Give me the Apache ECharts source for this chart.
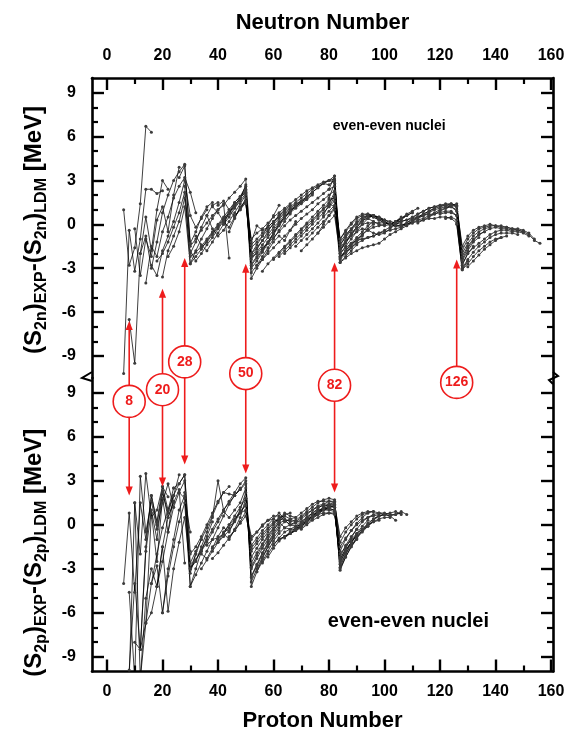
<!DOCTYPE html>
<html>
<head>
<meta charset="utf-8">
<script src="https://cdn.jsdelivr.net/npm/echarts@6/dist/echarts.min.js"></script>
<style>
  html, body { margin: 0; padding: 0; background: #fff; }
  #chart { width: 568px; height: 736px; }
</style>
</head>
<body>
<div id="chart"></div>
<script>
// Shell-gap residuals of two-nucleon separation energies, even-even nuclei.
// Each chain: [first nucleon number, values at steps of 2].

// (S2n)EXP - (S2n)LDM against neutron number (isotopic chains)
const s2nLight = [
  [6,  [1.0, -2.8, -1.6, 1.4, 6.7, 6.3]],
  [6,  [-10.2, -0.4, -3.2, -1.0, 2.4, 2.4, 2.1, 2.3]],
  [8,  [-6.5, -9.5, -2.0, 0.5, -1.8, 1.0, 3.0, 2.4]],
  [10, [-0.3, -3.5, -1.0, -2.2, 0.3, 1.2, -0.5, 2.0, 3.9]],
  [12, [-2.0, -0.8, -3.0, -1.2, 0.8, 2.0, 3.0, 3.6, 4.1, -1.3]],
  [14, [-4.0, -1.5, -2.2, -0.5, 0.5, 1.8, 2.6, 3.2, 2.2, 0.8]],
  [16, [-2.8, -3.5, -1.8, -0.8, 0.2, 1.5, 3.0, 0.6, -0.2, 0.4, 1.0]],
  [18, [-2.5, -2.0, -1.2, -0.2, 0.8, 2.2, -1.3, -0.5, 0.5, 1.2, 1.5]],
  [20, [-3.6, -1.8, -0.8, 0.2, 1.8, -2.0, -1.2, -0.2, 0.6, 1.3, 1.5]],
  [22, [-2.2, -1.5, -0.5, 1.2, -2.7, -1.8, -1.0, -0.3, 0.4, 1.0, 1.4, -2.3]]
];
const s2nMid = [
  [26, [3.2, 4.0, -1.5, -1.0, -0.4, 0.1, 0.6, 1.0, 1.3, 1.8, 2.2, 2.6, 3.1, -2.0, -1.4, -0.8, -0.1, 0.6, 1.3]],
  [28, [2.6, -2.7, -2.2, -1.7, -1.1, -0.6, -0.1, 0.4, 0.8, 1.3, 1.8, 2.3, -3.7, -3.0, -2.4, -1.8, -1.2, -0.8, -1.1, -0.4, 0.2]],
  [30, [-1.8, -2.5, -2.0, -1.4, -0.9, -0.3, 0.2, 0.7, 1.2, 1.7, 2.7, -3.3, -2.8, -2.2, -1.6, -1.0, -0.4, 0.2, 0.7]],
  [30, [-2.2, -1.9, -1.5, -1.0, -0.5, 0.0, 0.5, 1.0, 1.5, 1.9, 2.4, -2.8, -2.3, -1.8, -1.2, -0.6, 0.0, 0.5]],
  [32, [-0.8, -1.4, -1.8, -1.2, -0.6, 0.0, 0.5, 1.1, 1.6, 2.1, -3.0, -2.5, -1.9, -1.3, -0.7, -0.1, 0.4, 0.9, 1.3, 1.6]],
  [34, [-1.6, -1.2, -0.7, -0.2, 0.3, 0.8, 1.3, 1.8, 2.2, -2.2, -1.7, -1.1, -0.5, 0.1, 0.6, 1.0, 1.3]],
  [36, [0.6, -0.3, -0.8, -0.4, 0.2, 0.8, 1.4, 2.0, -2.7, -2.2, -1.7, -1.2, -0.6, 0.0, 0.5, 0.9, 1.2, 1.5, 1.8]],
  [38, [1.2, 0.8, 0.2, -0.2, 0.5, 1.1, 1.6, -2.4, -1.9, -1.4, -0.9, -0.4, 0.1, 0.5, 0.8, 1.1, 1.4, 1.7, 2.0]],
  [40, [1.3, 1.6, 1.0, 0.5, 1.0, 1.5, -2.0, -1.6, -1.1, -0.7, -0.2, 0.2, 0.6, 0.9, 1.2, 1.5, 1.8, 2.1]],
  [42, [0.0, 0.8, 1.5, 1.9, 2.6, -1.6, -1.2, -0.8, -0.4, 0.0, 0.4, 0.7, 1.0, 1.3, 1.6, 1.9, 2.2, 2.5, 2.8, 3.0, 3.3, -2.6, -2.2, -1.8, -1.4]],
  [44, [-0.5, 0.4, 1.2, 1.6, -1.0, -0.6, -0.3, 0.1, 0.5, 0.8, 1.1, 1.4, 1.7, 2.0, 2.3, 2.5, 2.7, 2.9, 3.0, 3.1, -2.4, -2.0, -1.6, -1.2, -0.8]],
  [46, [0.6, 1.0, 1.8, -1.4, -1.0, -0.6, -0.2, 0.2, 0.6, 0.9, 1.2, 1.5, 1.8, 2.1, 2.4, 2.6, 2.8, 2.7, 3.0, -2.3, -1.9, -1.5, -1.1, -0.7, -0.3, 0.0]]
];
const s2nHeavy = [
  [50, [1.4, -1.2, -0.1, -0.4, -0.2, 0.2, 0.5, 0.8, 1.1, 1.4, 1.6, 1.9, 2.2, 2.5, 2.8, 3.0, 2.9, -2.2, -1.8, -1.3, -0.9, -0.5, -0.1, 0.2]],
  [52, [-2.2, -2.0, -1.6, -1.3, -0.9, -0.5, -0.1, 0.3, 0.6, 0.9, 1.2, 1.5, 1.8, 2.1, 2.4, 2.6, -2.0, -1.5, -1.0, -0.5, 0.0, 0.4, 0.6, 0.5, 0.3]],
  [54, [-2.8, -2.4, -2.0, -1.6, -1.2, -0.8, -0.4, 0.0, 0.4, 0.7, 1.0, 1.4, 1.7, 2.0, 2.3, -1.8, -1.3, -0.7, -0.2, 0.3, 0.6, 0.5, 0.3, 0.1, 0.0, 0.2, 0.5]],
  [56, [-3.2, -2.7, -2.3, -1.9, -1.5, -1.1, -0.7, -0.3, 0.1, 0.5, 0.9, 1.3, 1.7, 1.8, -2.3, -1.8, -1.4, -1.0, -0.7, -0.4, -0.2, -0.1, 0.0]],
  [60, [-2.4, -2.0, -1.6, -1.2, -0.8, -0.4, 0.0, 0.3, 0.7, 1.1, 1.5, 1.9, -1.4, -0.9, -0.4, 0.0, 0.3, 0.4, 0.2, 0.0, -0.1, 0.0, 0.2, 0.4, 0.6]],
  [62, [-2.2, -1.8, -1.4, -1.0, -0.6, -0.2, 0.2, 0.6, 1.0, 1.4, 1.2, -1.7, -1.2, -0.8, -0.5, -0.3, -0.4, -0.6, -0.7, -0.6, -0.3, 0.0, 0.3, 0.6, 0.8]],
  [64, [-2.0, -1.6, -1.2, -0.8, -0.4, 0.0, 0.4, 0.8, 1.2, 1.6, -1.2, -0.7, -0.3, 0.1, 0.4, 0.6, 0.5, 0.3, 0.1, 0.0, 0.2, 0.4, 0.6, 0.8]],
  [68, [-1.5, -1.1, -0.7, -0.3, 0.1, 0.5, 0.9, 1.3, -1.0, -0.5, 0.0, 0.4, 0.6, 0.7, 0.6, 0.4, 0.2, 0.0, 0.1, 0.4, 0.7, 0.9, 1.1]],
  [70, [-1.8, -1.4, -1.0, -0.6, -0.2, 0.2, 0.6, -2.0, -1.6, -1.3, -1.1, -1.0, -0.9, -0.8, -0.6, -0.4, -0.2, 0.0, 0.2, 0.3, 0.4, 0.5, 0.6, 0.7]],
  [72, [-1.0, -0.6, -0.2, 0.2, 0.6, 1.0, -1.6, -1.1, -0.6, -0.2, 0.2, 0.5, 0.6, 0.5, 0.3, 0.1, -0.1, -0.1, 0.1, 0.3, 0.5, 0.7, 0.9, 1.1]],
  [76, [-0.6, 0.0, 0.6, 1.2, -2.6, -2.3, -2.0, -1.8, -1.6, -1.5, -1.4, -1.3, -1.0, -0.7, -0.5, -0.3, -0.1, 0.1, 0.2, 0.3, 0.4, 0.4, 0.5, 0.5, 0.4, 0.1, -3.1, -2.5]],
  [78, [0.6, 1.4, 2.2, -2.2, -1.9, -1.6, -1.3, -1.1, -0.9, -0.8, -0.6, -0.5, -0.4, -0.3, -0.2, 0.0, 0.1, 0.3, 0.4, 0.6, 0.7, 0.8, 0.9, 0.9, 0.6, -2.8, -2.0, -1.5]],
  [80, [2.4, 3.3, -1.8, -1.2, -0.7, -0.3, 0.0, 0.1, 0.1, 0.1, 0.1, 0.0, -0.1, -0.1, 0.0, 0.2, 0.4, 0.6, 0.8, 1.0, 1.1, 1.2, 1.2, 0.9, -2.5, -1.8, -1.2, -0.9]],
  [80, [1.8, 2.8, -1.4, -0.8, -0.3, 0.2, 0.5, 0.6, 0.6, 0.4, 0.3, 0.2, 0.1, 0.0, 0.0, 0.2, 0.5, 0.7, 0.9, 1.1, 1.2, 1.3, 1.4, 1.2, -2.2, -1.5, -1.0, -0.7, -0.5]],
  [80, [1.2, 1.9, -1.0, -0.4, 0.1, 0.5, 0.7, 0.7, 0.6, 0.4, 0.2, 0.0, -0.1, -0.1, 0.1, 0.4, 0.7, 0.9, 1.1, 1.2, 1.3, 1.4, 1.4, 1.3, -2.0, -1.3, -0.8, -0.5, -0.3, -0.2]],
  [104, [0.2, 0.2, 0.3, 0.5, 0.7, 0.9, 1.1, 1.2, 1.3, 1.3, 1.3, 1.2, -1.5, -0.8, -0.4, -0.2, -0.1, 0.0, -0.1, -0.1, -0.2, -0.3, -0.4, -0.5]],
  [112, [0.1, 0.3, 0.5, 0.7, 0.9, 1.1, 1.3, 1.4, -1.8, -1.0, -0.6, -0.3, -0.2, -0.1, -0.1, -0.2, -0.2, -0.3, -0.3, -0.4, -0.6, -1.0]],
  [116, [0.6, 0.8, 1.0, 1.1, 1.2, 1.0, -2.4, -1.6, -1.1, -0.7, -0.5, -0.3, -0.2, -0.3, -0.3, -0.4, -0.4, -0.5, -0.7, -1.1, -1.3]],
  [120, [0.7, 0.8, 0.8, 0.6, -2.7, -2.0, -1.6, -1.3, -1.0, -0.7, -0.5, -0.4, -0.4, -0.5, -0.5, -0.6, -0.8]],
  [122, [0.4, 0.5, 0.3, -3.0, -2.4, -1.9, -1.5, -1.2, -0.9, -0.7, -0.6, -0.6, -0.6, -0.7]],
  [126, [0.0, -3.1, -2.7, -2.2, -1.8, -1.5, -1.2, -1.0, -0.9]],
  [130, [-2.9, -2.5, -2.1, -1.7, -1.4, -1.1, -0.9, -0.8]]
];

// (S2p)EXP - (S2p)LDM against proton number (isotonic chains)
const s2pLight = [
  [6,  [-4.0, 0.8, -4.6, 1.5, -1.0, 2.0, 0.2, 2.6, 1.9]],
  [8,  [-10.5, 1.5, -2.0, 3.5, 0.5, 1.0, 2.6, 1.0, 2.5]],
  [8,  [-4.6, -10.5, 3.3, -0.5, 1.6, -0.3, 1.5, 2.8, 1.2]],
  [8,  [-9.9, -4.0, -8.5, -1.8, 1.0, -1.0, 2.3, 0.5, 1.6]],
  [10, [-8.0, -8.5, -1.5, 2.0, 0.0, 2.2, 0.8, 2.0, 3.4]],
  [10, [1.5, -10.5, -6.7, 0.8, -2.5, 1.8, -0.5, 2.0]],
  [12, [-8.5, -6.7, -4.0, -2.0, -0.2, 1.0, 2.0, 2.8, 3.4, -1.8]],
  [12, [-10.5, -5.0, -3.0, -4.2, -1.5, 0.5, 1.5, 2.4, -2.6]],
  [14, [-6.7, -6.0, -4.2, -2.5, -0.5, 1.2, 2.2, 1.8, -0.5]],
  [16, [-4.0, -2.8, -6.0, -3.0, -1.0, 1.0, 2.0, -3.3, -2.0]],
  [18, [-4.2, -1.5, -5.9, -3.0, -1.2, 0.5, -3.0, -2.0, -1.0]],
  [20, [-6.0, -3.5, -1.5, 0.2, 1.5, -4.2, -3.0, -1.8, -0.8, 0.2]]
];
const s2pMid = [
  [24, [2.5, 2.8, 3.4, -2.6, -1.8, -1.0, -0.2, 0.6, 1.5, 2.2, 2.6]],
  [26, [2.2, 3.0, -4.2, -3.4, -2.6, -1.8, -1.0, -0.2, 0.6, 1.4, 2.0, 2.5]],
  [28, [2.2, -3.0, -2.5, -1.5, -0.5, 0.5, 3.0, 1.0, 1.6, 2.2, 2.8, 3.2, -4.2, -3.2, -2.3, -1.5, -0.8]],
  [30, [-2.0, -1.5, -0.8, 0.0, 0.8, 1.6, 2.2, 2.1, 2.0, 2.4, 3.0, -3.5, -2.7, -1.9, -1.2, -0.6, 0.0]],
  [30, [-3.0, -2.4, -1.7, -1.0, -0.3, 0.4, 1.0, 1.5, 2.0, 2.4, 2.8, -3.9, -3.0, -2.2, -1.5, -0.9, -0.4]],
  [32, [-2.4, -1.8, -1.2, -0.5, 0.2, 0.9, 0.5, 1.0, 1.5, 2.5, -3.0, -2.3, -1.6, -1.0, -0.4, 0.2, 0.6]],
  [34, [-2.0, -2.3, -1.6, -0.8, -0.2, -0.5, 0.3, 1.0, 2.2, -2.6, -1.9, -1.3, -0.7, -0.2, 0.3, 0.7, 0.8]],
  [34, [-3.0, -2.4, -1.8, -1.2, -0.6, 0.0, 0.6, 1.2, 1.8, -2.9, -2.1, -1.4, -0.8, -0.3, 0.1, 0.3, 0.3]],
  [36, [-1.4, -1.0, -0.9, -0.6, -1.0, -0.3, 0.5, 1.8, -2.2, -1.6, -1.0, -0.5, 0.0, 0.4, 0.8, 0.6, 0.5]],
  [38, [-1.5, -1.2, -0.8, -0.4, 0.2, 0.8, 1.4, -1.8, -1.3, -0.8, -0.3, 0.1, 0.5, 0.6, 0.4, 0.5, 0.8, 1.1, 1.4, 1.6, 1.6, 1.6, 1.5, -3.1, -2.2, -1.5, -1.0]],
  [38, [-2.3, -1.9, -1.4, -0.9, -0.4, 0.2, 0.9, -1.6, -1.1, -0.6, -0.2, 0.2, 0.4, 0.3, 0.0, 0.2, 0.5, 0.8, 1.0, 1.2, 1.3, 1.3, 1.2, -2.9, -2.0, -1.2, -0.6, -0.1, 0.3]],
  [40, [-1.0, -0.6, -0.2, 0.3, 0.9, 1.3, -1.4, -0.9, -0.4, 0.0, 0.4, 0.8, 0.4, 0.2, 0.3, 0.6, 0.9, 1.2, 1.5, 1.7, 1.8, 1.7, -2.6, -1.8, -1.2, -0.7]],
  [42, [-0.5, 0.0, 0.4, 0.8, 1.0, -0.8, -0.5, -0.1, 0.3, 0.6, 0.6, 0.3, 0.0, 0.1, 0.4, 0.7, 1.0, 1.3, 1.4, 1.4, 1.3, -2.2, -1.4, -0.8, -0.3]],
  [44, [-0.8, -0.4, 0.1, 0.6, -1.0, -0.5, 0.0, 0.3, 0.4, 0.2, -0.2, -0.3, -0.1, 0.2, 0.5, 0.8, 1.0, 1.1, 1.1, 1.0, -2.4, -1.6, -0.9, -0.3, 0.2, 0.5, 0.7, 0.8, 0.8, 0.7, 0.7, 0.8]]
];
const s2pHeavy = [
  [52, [-3.6, -2.8, -2.0, -1.3, -0.7, -0.2, 0.2, 0.4, 0.2, 0.2, 0.5, 0.8, 1.1, 1.4, 1.6, 1.6, -1.8, -1.0, -0.4, 0.1, 0.5, 0.8]],
  [54, [-3.2, -2.5, -1.8, -1.1, -0.6, -0.2, 0.0, -0.1, 0.0, 0.3, 0.6, 0.9, 1.2, 1.4, 1.5, -1.2, -0.5, 0.0, 0.4, 0.7, 0.8, 0.9]],
  [56, [-2.6, -2.0, -1.4, -0.9, -0.5, -0.3, -0.3, -0.1, 0.2, 0.5, 0.8, 1.1, 1.3, 1.4, -0.8, -0.2, 0.2, 0.6, 0.8, 0.9, 0.9, 0.8, 0.7]],
  [58, [-2.2, -1.6, -1.1, -0.8, -0.6, -0.4, -0.2, 0.1, 0.4, 0.7, 1.0, 1.2, 1.3, -3.0, -2.2, -1.5, -0.9, -0.4, 0.0, 0.4, 0.6, 0.7, 0.6, 0.3]],
  [60, [-1.3, -1.0, -0.8, -0.5, -0.2, 0.1, 0.4, 0.7, 0.9, 1.0, 1.0, 0.9, -2.5, -1.8, -1.2, -0.7, -0.3, 0.1, 0.4, 0.6, 0.7, 0.8, 0.9, 0.7]],
  [62, [-1.0, -0.8, -0.6, -0.3, 0.0, 0.3, 0.6, 0.9, 1.1, 1.2, 1.2, -2.7, -2.0, -1.4, -0.9, -0.5, -0.1, 0.3, 0.6, 0.7, 0.6, 0.7, 0.9, 0.7]],
  [64, [-0.9, -0.6, -0.4, -0.1, 0.2, 0.5, 0.7, 0.8, 0.8, 0.7, -1.5, -0.9, -0.4, 0.0, 0.3, 0.5, 0.6, 0.7]],
  [66, [-0.6, -0.3, 0.0, 0.3, 0.6, 0.8, 1.0, 1.1, 1.0, -2.3, -1.7, -1.2, -0.8, -0.4, -0.1, 0.2, 0.4, 0.5, 0.5]],
  [70, [-0.3, 0.0, 0.3, 0.5, 0.7, 0.8, 0.8, -2.0, -1.5, -1.0, -0.6, -0.3, 0.0, 0.2, 0.3]]
];

// Axis scales and ticks
const xRange = [-5.4, 160.7];
const yRangeTop = [-10.5, 10];
const yRangeBottom = [-10, 10];
const xTicksMajor = [0, 20, 40, 60, 80, 100, 120, 140, 160];
const xTicksMinor = [10, 30, 50, 70, 90, 110, 130, 150];
const yTicksMajor = [-9, -6, -3, 0, 3, 6, 9];
const yTicksMinor = [-8, -7, -5, -4, -2, -1, 1, 2, 4, 5, 7, 8];

// Magic numbers: arrow from the circled label up into the S2n panel and down into the S2p panel
const magicNumbers = [8, 20, 28, 50, 82, 126];
const magicLabelLevel = [-12.1, -11.3, -9.4, -10.2, -11.0, -10.8]; // in S2n-panel units
const magicUpTip = [-6.6, -4.4, -2.3, -2.7, -2.6, -2.4];           // S2n panel
const magicDownTip = [2.0, 2.6, 4.1, 3.5, 2.2, null];               // S2p panel

const FONT = '"Liberation Sans", Arial, Helvetica, sans-serif';
const RED = '#ee1c1c';

const chart = echarts.init(document.getElementById('chart'), null, { renderer: 'canvas' });

function chainData(start, values) {
  return values.map((v, i) => [start + 2 * i, v]);
}

function chainSeries(chains, xi, yi) {
  return chains.map(([start, values]) => ({
    type: 'line',
    xAxisIndex: xi,
    yAxisIndex: yi,
    data: chainData(start, values),
    symbol: 'circle',
    symbolSize: 3,
    showSymbol: true,
    showAllSymbol: true,
    clip: true,
    silent: true,
    animation: false,
    lineStyle: { color: '#000', width: 0.75 },
    itemStyle: { color: '#3c3c3c', borderWidth: 0 }
  }));
}

const topChains = [...s2nLight, ...s2nMid, ...s2nHeavy];
const bottomChains = [...s2pLight, ...s2pMid, ...s2pHeavy];

const tickLabel = { fontSize: 16, fontWeight: 'bold', color: '#000', fontFamily: FONT };
const axisLineStyle = { color: '#000', width: 2.6 };

function xAxisPair(gridIndex, position, name, nameGap, labelMargin) {
  return [
    {
      gridIndex, type: 'value', position, min: xRange[0], max: xRange[1],
      axisLine: { show: true, onZero: false, lineStyle: axisLineStyle },
      axisTick: { show: true, inside: true, length: 12, customValues: xTicksMajor, lineStyle: { color: '#000', width: 2.4 } },
      axisLabel: Object.assign({ show: true, margin: labelMargin, customValues: xTicksMajor }, tickLabel),
      splitLine: { show: false },
      name, nameLocation: 'middle', nameGap,
      nameTextStyle: { fontSize: 22, fontWeight: 'bold', color: '#000', fontFamily: FONT }
    },
    {
      gridIndex, type: 'value', position, min: xRange[0], max: xRange[1],
      axisLine: { show: false, onZero: false },
      axisTick: { show: true, inside: true, length: 6, customValues: xTicksMinor, lineStyle: { color: '#000', width: 2.2 } },
      axisLabel: { show: false },
      splitLine: { show: false }
    }
  ];
}

function yAxisSet(gridIndex, range, name, shiftDown) {
  const base = { gridIndex, type: 'value', min: range[0], max: range[1], splitLine: { show: false } };
  return [
    Object.assign({}, base, {
      position: 'left',
      axisLine: { show: true, onZero: false, lineStyle: axisLineStyle },
      axisTick: { show: true, inside: true, length: 12, customValues: yTicksMajor, lineStyle: { color: '#000', width: 2.4 } },
      axisLabel: Object.assign({ show: true, margin: 16, customValues: yTicksMajor }, tickLabel),
      name, nameLocation: 'middle', nameGap: 42, nameRotate: 90,
      nameTextStyle: {
        color: '#000',
        padding: [0, shiftDown * 2, 0, 0],
        rich: {
          m: { fontSize: 24, fontWeight: 'bold', fontFamily: FONT, color: '#000', lineHeight: 31 },
          s: { fontSize: 16, fontWeight: 'bold', fontFamily: FONT, color: '#000', lineHeight: 16, verticalAlign: 'bottom' }
        }
      }
    }),
    Object.assign({}, base, {
      position: 'left',
      axisLine: { show: false, onZero: false },
      axisTick: { show: true, inside: true, length: 6, customValues: yTicksMinor, lineStyle: { color: '#000', width: 2.2 } },
      axisLabel: { show: false }
    }),
    Object.assign({}, base, {
      position: 'right',
      axisLine: { show: true, onZero: false, lineStyle: axisLineStyle },
      axisTick: { show: true, inside: true, length: 12, customValues: yTicksMajor, lineStyle: { color: '#000', width: 2.4 } },
      axisLabel: { show: false }
    }),
    Object.assign({}, base, {
      position: 'right',
      axisLine: { show: false, onZero: false },
      axisTick: { show: true, inside: true, length: 6, customValues: yTicksMinor, lineStyle: { color: '#000', width: 2.2 } },
      axisLabel: { show: false }
    })
  ];
}

const nameS2n = '{m|(S}{s|2n}{m|)}{s|EXP}{m|-(S}{s|2n}{m|)}{s|LDM}{m| [MeV]}';
const nameS2p = '{m|(S}{s|2p}{m|)}{s|EXP}{m|-(S}{s|2p}{m|)}{s|LDM}{m| [MeV]}';

const option = {
  backgroundColor: '#fff',
  animation: false,
  textStyle: { fontFamily: FONT },
  grid: [
    { left: 92, top: 78, width: 461, height: 300, containLabel: false, outerBoundsMode: 'none' },
    { left: 92, top: 378, width: 461, height: 293.5, containLabel: false, outerBoundsMode: 'none' }
  ],
  xAxis: [
    ...xAxisPair(0, 'top', 'Neutron Number', 44, 14),
    ...xAxisPair(1, 'bottom', 'Proton Number', 38, 12)
  ],
  yAxis: [
    ...yAxisSet(0, yRangeTop, nameS2n, 2),
    ...yAxisSet(1, yRangeBottom, nameS2p, 28)
  ],
  series: [
    ...chainSeries(topChains, 0, 0),
    ...chainSeries(bottomChains, 2, 4)
  ]
};

chart.setOption(option);

// Annotations positioned through the panels' own coordinate systems
const topIdx = 0;
const botIdx = topChains.length;
const toTop = (x, y) => chart.convertToPixel({ seriesIndex: topIdx }, [x, y]);
const toBot = (x, y) => chart.convertToPixel({ seriesIndex: botIdx }, [x, y]);

const graphics = [];
const R = 16, HEAD = 9, HALF = 3.6;

magicNumbers.forEach((m, i) => {
  const [cx, cy] = toTop(m, magicLabelLevel[i]);
  const yUp = toTop(m, magicUpTip[i])[1];
  graphics.push({ type: 'line', z: 50, shape: { x1: cx, y1: cy - R, x2: cx, y2: yUp + HEAD - 1 }, style: { stroke: RED, lineWidth: 1.6 } });
  graphics.push({ type: 'polygon', z: 50, shape: { points: [[cx, yUp], [cx - HALF, yUp + HEAD], [cx + HALF, yUp + HEAD]] }, style: { fill: RED } });
  if (magicDownTip[i] !== null) {
    const yDn = toBot(m, magicDownTip[i])[1];
    graphics.push({ type: 'line', z: 50, shape: { x1: cx, y1: cy + R, x2: cx, y2: yDn - HEAD + 1 }, style: { stroke: RED, lineWidth: 1.6 } });
    graphics.push({ type: 'polygon', z: 50, shape: { points: [[cx, yDn], [cx - HALF, yDn - HEAD], [cx + HALF, yDn - HEAD]] }, style: { fill: RED } });
  }
  graphics.push({ type: 'circle', z: 51, shape: { cx, cy, r: R }, style: { fill: '#fff', stroke: RED, lineWidth: 1.6 } });
  graphics.push({
    type: 'text', z: 52, x: cx, y: cy,
    style: { text: String(m), fill: RED, font: 'bold 14px ' + FONT, textAlign: 'center', textVerticalAlign: 'middle', align: 'center', verticalAlign: 'middle' }
  });
});

// Panel captions
const capTop = toTop(101.7, 6.7);
const capBot = toBot(108.6, -6.6);
graphics.push({ type: 'text', z: 40, x: capTop[0], y: capTop[1],
  style: { text: 'even-even nuclei', fill: '#000', font: 'bold 14px ' + FONT, textAlign: 'center', textVerticalAlign: 'middle', align: 'center', verticalAlign: 'middle' } });
graphics.push({ type: 'text', z: 40, x: capBot[0], y: capBot[1],
  style: { text: 'even-even nuclei', fill: '#000', font: 'bold 20px ' + FONT, textAlign: 'center', textVerticalAlign: 'middle', align: 'center', verticalAlign: 'middle' } });

// Axis breaks between the two panels
const [xl, yb] = toTop(xRange[0], yRangeTop[0]);
const xr = toTop(xRange[1], 0)[0];
graphics.push({ type: 'polyline', z: 45, shape: { points: [[xl, yb - 6], [xl - 10, yb], [xl, yb + 3]] }, style: { stroke: '#000', lineWidth: 2, fill: null } });
graphics.push({ type: 'polyline', z: 45, shape: { points: [[xr, yb - 6], [xr + 5, yb - 2], [xr - 4, yb + 2], [xr, yb + 6]] }, style: { stroke: '#000', lineWidth: 2, fill: null } });

chart.setOption({ graphic: graphics });
</script>
</body>
</html>
